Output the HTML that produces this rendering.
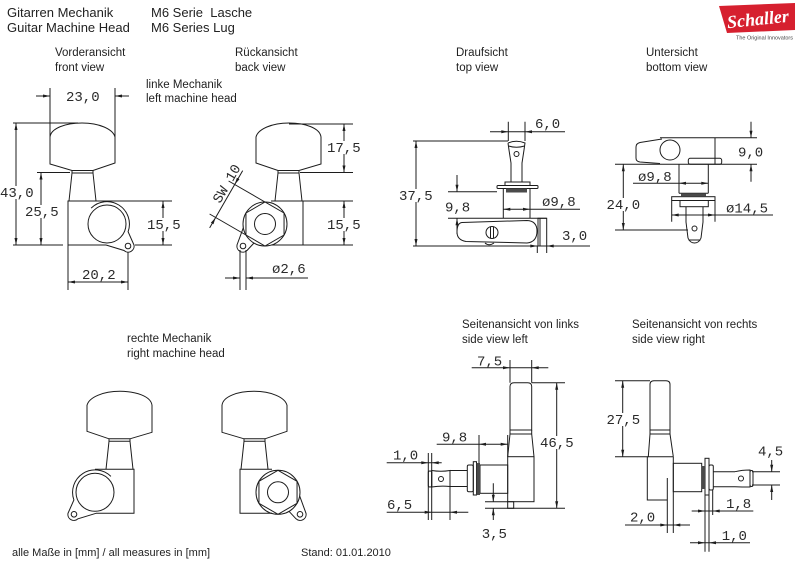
<!DOCTYPE html>
<html><head><meta charset="utf-8"><style>
html,body{margin:0;padding:0;background:#fff;}
svg{display:block;}
.l{stroke:#1c1c1c;stroke-width:1;fill:none;}
.d{font-family:"Liberation Mono","DejaVu Sans Mono",monospace;font-size:14px;fill:#2a2a2a;}
.t{font-family:"Liberation Sans","DejaVu Sans",sans-serif;fill:#222;}
.a{fill:#1c1c1c;stroke:none;}
</style></head><body>
<svg width="800" height="562" viewBox="0 0 800 562" xmlns="http://www.w3.org/2000/svg">
<defs>
<g id="U">
 <path d="M50,137 C51,128 66,123 82,123 C99,123 113,129 115,137 L115,163 L93,170.5 L72,170.5 L50,164 Z"/>
 <path d="M72,170.5 L72,173 L93,173 L93,170.5 M72,173 L69,201 M93,173 L96,201"/>
</g>
<g id="F">
 <path d="M107,201 L68,201 L68,245 L106,245"/>
 <path d="M91.1,208.1 A22.5,22.5 0 0 1 128.1,231.7 L134,245 A6,6 0 0 1 124,250.5 L106,245"/>
 <circle cx="107" cy="224" r="19"/>
 <circle cx="128" cy="246" r="2.8"/>
</g>
<g id="B">
 <path d="M100,201 L68,201 L68,245 L100,245"/>
 <circle cx="106" cy="224" r="22"/>
 <polygon points="106,202 125.05,213 125.05,235 106,246 86.95,235 86.95,213"/>
 <circle cx="106" cy="224" r="10.5"/>
 <path d="M127.7,227.8 L134,245 A6,6 0 0 1 124,250.5 L117,243"/>
 <circle cx="128" cy="246" r="2.8"/>
</g>
</defs>

<!-- Logo -->
<polygon points="719,6 795,3 795,30 727,33" fill="#d6202f"/>
<text x="758" y="25" text-anchor="middle" transform="rotate(-6 758 20)" style="font-family:'Liberation Serif',serif;font-style:italic;font-weight:bold;font-size:18px;fill:#fff;">Schaller</text>
<text x="736" y="39.5" textLength="57" lengthAdjust="spacingAndGlyphs" style="font-family:'Liberation Sans',sans-serif;font-size:5px;fill:#444;">The Original Innovators</text>

<!-- Titles -->
<g class="t" font-size="13">
<text x="7" y="17">Gitarren Mechanik</text>
<text x="7" y="32">Guitar Machine Head</text>
<text x="151" y="17">M6 Serie&#160; Lasche</text>
<text x="151" y="32">M6 Series Lug</text>
</g>
<g class="t" font-size="11.5">
<text x="55" y="56">Vorderansicht</text>
<text x="55" y="71">front view</text>
<text x="146" y="88">linke Mechanik</text>
<text x="146" y="102">left machine head</text>
<text x="235" y="56">Rückansicht</text>
<text x="235" y="71">back view</text>
<text x="456" y="56">Draufsicht</text>
<text x="456" y="71">top view</text>
<text x="646" y="56">Untersicht</text>
<text x="646" y="71">bottom view</text>
<text x="127" y="342">rechte Mechanik</text>
<text x="127" y="357">right machine head</text>
<text x="462" y="328">Seitenansicht von links</text>
<text x="462" y="343">side view left</text>
<text x="632" y="328">Seitenansicht von rechts</text>
<text x="632" y="343">side view right</text>
</g>
<g class="t" font-size="11">
<text x="12" y="556">alle Maße in [mm] / all measures in [mm]</text>
<text x="301" y="556">Stand: 01.01.2010</text>
</g>

<g class="l">
<!-- machine heads -->
<use href="#U"/><use href="#F"/>
<g transform="translate(371,0) scale(-1,1)"><use href="#U"/><use href="#B"/></g>
<g transform="translate(202,268.3) scale(-1,1)"><use href="#U"/><use href="#F"/></g>
<g transform="translate(172,268.3)"><use href="#U"/><use href="#B"/></g>

<!-- front view dims -->
<path d="M50,88 V137 M115,88 V137 M36,96 H50 M115,96 H129"/>
<path d="M13,123 H78 M13,245 H63 M16,123 V245"/>
<path d="M37,172.5 H70 M41,172.5 V245"/>
<path d="M107,201 H172 M135,245 H172 M163,201 V245"/>
<path d="M68,245 V290 M128,252 V290 M68,282 H128"/>

<!-- back view dims -->
<path d="M289,124 H353 M300,172.5 H353 M344,124 V172.5"/>
<path d="M303,201 H353 M303,245 H353 M344,201 V245"/>
<path d="M265,202 L228.6,181 M245.95,235 L209.6,214 M242.7,170.6 L209.65,227.9"/>
<path d="M240,250 V290 M246,250 V290 M225,278 H240 M246,278 H308"/>

<!-- top view -->
<path d="M508,143 Q516.5,139.5 525,143 L524,150 L522,163 L522,182 M508,143 L509,150 L511,163 L511,182 M508.5,146 Q516.5,148.5 524.5,146"/>
<circle cx="516.5" cy="154" r="2.5"/>
<rect x="505" y="182" width="25" height="3.5"/>
<rect x="497" y="185.5" width="41" height="3" rx="1"/>
<path d="M503.3,188.5 V218.3 M530,188.5 V218.3 M448,218.3 H546.7"/>
<path d="M462,222.5 L527,220.5 Q537,221 537,231 Q537,242 527,243 L466,241.5 Q457,240 457,232 Q457,223 462,222.5 Z"/>
<circle cx="492" cy="232.5" r="6"/>
<path d="M490.5,227 V238 M493.5,227 V238 M485,243 Q489,246.5 494,243"/>
<rect x="538" y="218.3" width="8.7" height="27.7"/>
<path d="M540,218.3 V246"/>
<path d="M413,141 H508 M413,246 H590 M416,141 V246"/>
<path d="M508.3,121.7 V141 M525,121.7 V141 M490,131.7 H565"/>
<path d="M448,191.7 H497 M457,175 V191.7 M457,218.3 V234"/>
<path d="M503.3,209.3 H580"/>
<path d="M537.3,246 V253 M546.7,246 V253"/>

<!-- bottom view -->
<path d="M662,139 L640,142.5 Q636,143.5 636,147 L636,158 Q636,161.5 640,162 L660,163.5"/>
<circle cx="670" cy="150" r="10"/>
<path d="M660,137.7 H757 M715,137.7 V164.3 M615,164.3 H757"/>
<rect x="688.3" y="158.3" width="33.4" height="6" rx="2"/>
<path d="M679,164.3 V193.3 M708.3,164.3 V193.3 M679,193.3 H708.3"/>
<rect x="671.7" y="196.7" width="43.3" height="3.8"/>
<rect x="680" y="200.5" width="28.3" height="6.2"/>
<path d="M671.7,200.5 V221.7 M715,200.5 V221.7"/>
<path d="M686,206.7 L686,222 Q687,230 688,238 Q690,243 694.5,243 Q699,243 701,238 Q702,230 703,222 L703,206.7 M688.5,240 H700.5"/>
<circle cx="694.5" cy="228.5" r="2.5"/>
<path d="M751,121.7 V137.7 M751,164.3 V181.7"/>
<path d="M633,183.3 H708.3 M671.7,215 H773"/>
<path d="M623.3,164.3 V230 M615,230 H688"/>

<!-- side view left -->
<path d="M510,430 V386.5 Q510,382.7 514,382.7 H527.7 Q531.7,382.7 531.7,386.5 V430 Z"/>
<path d="M510,430 V434 H531.7 V430 M510,434 L507.7,456.7 M531.7,434 L534,456.7"/>
<rect x="507.7" y="456.7" width="26.3" height="45"/>
<path d="M507.7,435 V456.7"/>
<rect x="507.7" y="501.7" width="6" height="6.6"/>
<rect x="480" y="465" width="27.7" height="28.3"/>
<rect x="473.3" y="461.7" width="3.2" height="33.3"/>
<rect x="467.3" y="465" width="6" height="26.7" rx="1.5"/>
<path d="M450,470.5 H467.3 M450,486.5 H467.3"/>
<path d="M450,470.5 Q441,472 431.7,470.5 V487 Q441,485.5 450,486.5 Z"/>
<rect x="428.3" y="471" width="3.4" height="16" rx="1.5"/>
<circle cx="441" cy="479" r="2.5"/>
<path d="M531.7,382.7 H565 M485,508.3 H565 M556.7,382.7 V508.3"/>
<path d="M510,360 V382.7 M531.7,360 V382.7 M471.7,367.7 H548.3"/>
<path d="M479,435 V465 M436.7,444.3 H507.7"/>
<path d="M428.3,453 V520 M431.7,453 V520 M386.7,462.7 H441.7"/>
<path d="M450,487 V520 M386.7,512.3 H468.3"/>
<path d="M485,501.7 H507.7 M493.3,483.3 V501.7 M493.3,508.3 V520"/>

<!-- side view right -->
<path d="M650,430 V384.5 Q650,380.7 654,380.7 H666 Q670,380.7 670,384.5 V430 Z"/>
<path d="M650,430 V434 H670 V430 M650,434 L648.3,456.7 M670,434 L673.3,456.7"/>
<path d="M647.3,456.7 H673.3 M647.3,456.7 V500 H667.3 M673.3,456.7 V533 M667.3,478 V533"/>
<rect x="673.3" y="463.3" width="28.4" height="28.4"/>
<rect x="705" y="458.3" width="4" height="36.7"/>
<path d="M705,495 V551.7 M709,495 V551.7 M712.7,490 V515"/>
<rect x="709" y="465" width="4.3" height="25" rx="1.5"/>
<path d="M713.3,471.7 H735 M713.3,486.7 H735"/>
<path d="M735,471.7 Q742,470 750,470 V487 Q742,487 735,486.7"/>
<rect x="750" y="470.5" width="3" height="16" rx="1.5"/>
<circle cx="741" cy="478.5" r="2.5"/>
<path d="M615,380.7 H650 M615,456.7 H648.3 M622.7,380.7 V456.7"/>
<path d="M752,471.7 H780 M752,485 H780 M771.7,460 V471.7 M771.7,485 V500"/>
<path d="M691.7,511 H753.3 M690,542.7 H750 M625,525 H690"/>
</g>

<!-- thread bands -->
<g fill="#4a4a4a">
<rect x="506" y="188.5" width="21" height="4"/>
<rect x="681" y="193.3" width="25" height="3.4"/>
<rect x="476.5" y="463" width="3.5" height="32"/>
<rect x="701.7" y="466" width="3.3" height="23"/>
</g>

<!-- arrowheads -->
<g class="a">
<polygon points="50,96 43,94.5 43,97.5"/>
<polygon points="115,96 122,94.5 122,97.5"/>
<polygon points="16,123 14.5,130 17.5,130"/>
<polygon points="16,245 14.5,238 17.5,238"/>
<polygon points="41,172.5 39.5,179.5 42.5,179.5"/>
<polygon points="41,245 39.5,238 42.5,238"/>
<polygon points="163,201 161.5,208 164.5,208"/>
<polygon points="163,245 161.5,238 164.5,238"/>
<polygon points="68,282 75,280.5 75,283.5"/>
<polygon points="128,282 121,280.5 121,283.5"/>

<polygon points="344,124 342.5,131 345.5,131"/>
<polygon points="344,172.5 342.5,165.5 345.5,165.5"/>
<polygon points="344,201 342.5,208 345.5,208"/>
<polygon points="344,245 342.5,238 345.5,238"/>
<polygon points="234.7,184.5 239.5,179.19 236.9,177.69"/>
<polygon points="215.65,217.5 213.45,224.31 210.85,222.81"/>
<polygon points="240,278 233,276.5 233,279.5"/>
<polygon points="246,278 253,276.5 253,279.5"/>

<polygon points="416,141 414.5,148 417.5,148"/>
<polygon points="416,246 414.5,239 417.5,239"/>
<polygon points="508.3,131.7 501.3,130.2 501.3,133.2"/>
<polygon points="525,131.7 532,130.2 532,133.2"/>
<polygon points="457,191.7 455.5,184.7 458.5,184.7"/>
<polygon points="457,218.3 455.5,225.3 458.5,225.3"/>
<polygon points="503.3,209.3 510.3,207.8 510.3,210.8"/>
<polygon points="530,209.3 523,207.8 523,210.8"/>
<polygon points="537.3,246 530.3,244.5 530.3,247.5"/>
<polygon points="546.7,246 553.7,244.5 553.7,247.5"/>

<polygon points="751,137.7 749.5,130.7 752.5,130.7"/>
<polygon points="751,164.3 749.5,171.3 752.5,171.3"/>
<polygon points="679,183.3 686,181.8 686,184.8"/>
<polygon points="708.3,183.3 701.3,181.8 701.3,184.8"/>
<polygon points="671.7,215 678.7,213.5 678.7,216.5"/>
<polygon points="715,215 708,213.5 708,216.5"/>
<polygon points="623.3,164.3 621.8,171.3 624.8,171.3"/>
<polygon points="623.3,230 621.8,223 624.8,223"/>

<polygon points="556.7,382.7 555.2,389.7 558.2,389.7"/>
<polygon points="556.7,508.3 555.2,501.3 558.2,501.3"/>
<polygon points="510,367.7 503,366.2 503,369.2"/>
<polygon points="531.7,367.7 538.7,366.2 538.7,369.2"/>
<polygon points="479,444.3 486,442.8 486,445.8"/>
<polygon points="507.7,444.3 500.7,442.8 500.7,445.8"/>
<polygon points="428.3,462.7 421.3,461.2 421.3,464.2"/>
<polygon points="431.7,462.7 438.7,461.2 438.7,464.2"/>
<polygon points="431.7,512.3 424.7,510.8 424.7,513.8"/>
<polygon points="450,512.3 457,510.8 457,513.8"/>
<polygon points="493.3,501.7 491.8,494.7 494.8,494.7"/>
<polygon points="493.3,508.3 491.8,515.3 494.8,515.3"/>

<polygon points="622.7,380.7 621.2,387.7 624.2,387.7"/>
<polygon points="622.7,456.7 621.2,449.7 624.2,449.7"/>
<polygon points="771.7,471.7 770.2,464.7 773.2,464.7"/>
<polygon points="771.7,485 770.2,492 773.2,492"/>
<polygon points="705,511 698,509.5 698,512.5"/>
<polygon points="712.7,511 719.7,509.5 719.7,512.5"/>
<polygon points="705,542.7 698,541.2 698,544.2"/>
<polygon points="709,542.7 716,541.2 716,544.2"/>
<polygon points="667.3,525 660.3,523.5 660.3,526.5"/>
<polygon points="673.3,525 680.3,523.5 680.3,526.5"/>
</g>

<!-- white gaps behind dimension text -->
<g fill="#fff">
<rect x="0" y="186" width="34" height="13"/>
<rect x="25" y="205" width="34" height="13"/>
<rect x="147" y="218" width="34" height="13"/>
<rect x="327" y="141" width="34" height="13"/>
<rect x="327" y="218" width="34" height="13"/>
<rect x="399" y="189" width="34" height="13"/>
<rect x="606" y="198" width="35" height="13"/>
<rect x="540" y="436" width="34" height="13"/>
<rect x="606" y="413" width="35" height="13"/>
</g>

<!-- dimension text -->
<g class="d">
<text x="66" y="101">23,0</text>
<text x="0" y="197">43,0</text>
<text x="25" y="216">25,5</text>
<text x="147" y="229">15,5</text>
<text x="82" y="279">20,2</text>

<text x="327" y="152">17,5</text>
<text x="327" y="229">15,5</text>
<text transform="translate(220,204) rotate(-60)" x="0" y="0">SW 10</text>
<text x="272" y="273">ø2,6</text>

<text x="535" y="128">6,0</text>
<text x="399" y="200">37,5</text>
<text x="445" y="211.5">9,8</text>
<text x="542" y="206">ø9,8</text>
<text x="562" y="240">3,0</text>

<text x="738" y="156.7">9,0</text>
<text x="638" y="181">ø9,8</text>
<text x="726" y="212.3">ø14,5</text>
<text x="606.5" y="209">24,0</text>

<text x="477" y="365.5">7,5</text>
<text x="540" y="447">46,5</text>
<text x="442" y="441.5">9,8</text>
<text x="393" y="459.5">1,0</text>
<text x="387" y="509">6,5</text>
<text x="481.7" y="538">3,5</text>

<text x="606.5" y="424">27,5</text>
<text x="758" y="455.5">4,5</text>
<text x="726" y="508">1,8</text>
<text x="721.7" y="540">1,0</text>
<text x="630" y="521.5">2,0</text>
</g>
</svg>
</body></html>
